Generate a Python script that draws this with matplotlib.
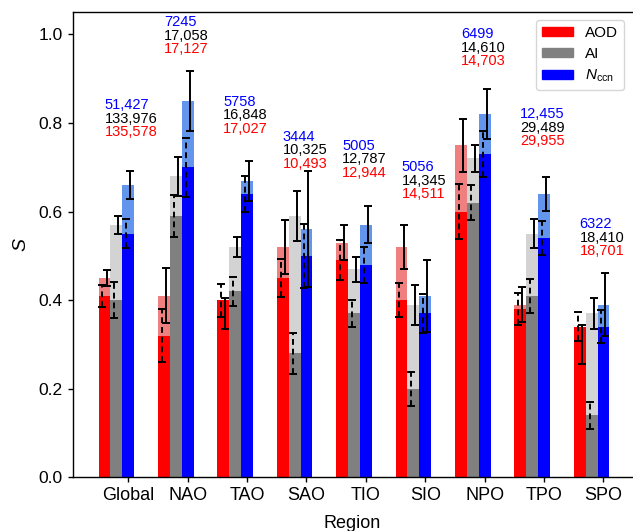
# bar chart of S per region for AOD, AI and Nccn, two periods stacked on top of each other
import numpy as np
from matplotlib import pyplot as plt
from matplotlib.patches import Patch

plt.rcParams['font.family'] = ['Liberation Sans', 'DejaVu Sans']
plt.rcParams['mathtext.fontset'] = 'custom'
plt.rcParams['mathtext.rm'] = 'Liberation Sans'
plt.rcParams['mathtext.it'] = 'Liberation Sans:italic'

regions = ['Global', 'NAO', 'TAO', 'SAO', 'TIO', 'SIO', 'NPO', 'TPO', 'SPO']

# light bars (solid error bars)
aod_a = [0.45, 0.41, 0.37, 0.52, 0.53, 0.52, 0.75, 0.39, 0.30]
aod_a_err = [0.019, 0.062, 0.035, 0.062, 0.040, 0.050, 0.060, 0.040, 0.045]
ai_a = [0.57, 0.68, 0.52, 0.59, 0.47, 0.39, 0.72, 0.55, 0.37]
ai_a_err = [0.021, 0.044, 0.023, 0.057, 0.028, 0.045, 0.031, 0.033, 0.036]
ccn_a = [0.66, 0.85, 0.67, 0.56, 0.57, 0.41, 0.82, 0.64, 0.39]
ccn_a_err = [0.031, 0.068, 0.045, 0.131, 0.042, 0.081, 0.057, 0.038, 0.072]

# dark bars (dashed error bars)
aod_b = [0.41, 0.32, 0.40, 0.45, 0.49, 0.40, 0.60, 0.38, 0.34]
aod_b_err = [0.025, 0.059, 0.037, 0.042, 0.045, 0.038, 0.062, 0.037, 0.033]
ai_b = [0.40, 0.59, 0.42, 0.28, 0.37, 0.20, 0.62, 0.41, 0.14]
ai_b_err = [0.040, 0.048, 0.033, 0.047, 0.030, 0.038, 0.040, 0.038, 0.031]
ccn_b = [0.55, 0.70, 0.64, 0.50, 0.48, 0.37, 0.73, 0.54, 0.34]
ccn_b_err = [0.033, 0.066, 0.040, 0.073, 0.041, 0.045, 0.052, 0.038, 0.037]

# sample counts written above each group
n_ccn = ['51,427', '7245', '5758', '3444', '5005', '5056', '6499', '12,455', '6322']
n_ai = ['133,976', '17,058', '16,848', '10,325', '12,787', '14,345', '14,610', '29,489', '18,410']
n_aod = ['135,578', '17,127', '17,027', '10,493', '12,944', '14,511', '14,703', '29,955', '18,701']
label_y = [0.84, 1.028, 0.848, 0.769, 0.749, 0.70, 1.0, 0.82, 0.571]

x = np.arange(len(regions))
w = 0.2
dx = 0.034

fig = plt.figure(figsize=(6.33, 5.31), dpi=100)
ax = fig.add_axes([0.1148, 0.1011, 0.8836, 0.8757])

series = [
    (x - 2 * w, aod_a, aod_a_err, aod_b, aod_b_err, '#f08080', '#ff0000'),
    (x - w, ai_a, ai_a_err, ai_b, ai_b_err, '#d3d3d3', '#808080'),
    (x, ccn_a, ccn_a_err, ccn_b, ccn_b_err, '#6495ed', '#0000ff'),
]

for pos, va, vae, vb, vbe, light, dark in series:
    ax.bar(pos, va, w, color=light, zorder=1)
    ax.bar(pos, vb, w, color=dark, zorder=2)
for pos, va, vae, vb, vbe, light, dark in series:
    eb = ax.errorbar(pos - dx, vb, yerr=vbe, fmt='none', ecolor='k', elinewidth=1.4,
                     capsize=3, capthick=1.4, zorder=3)
    eb[2][0].set_linestyle((0, (3, 2)))
    ax.errorbar(pos + dx, va, yerr=vae, fmt='none', ecolor='k', elinewidth=1.4,
                capsize=3, capthick=1.4, zorder=4)

for i in range(len(regions)):
    xt = x[i] - 2 * w
    ax.annotate(n_ccn[i], (xt, label_y[i]), xytext=(0, 0), textcoords='offset points',
                color='#0000ff', fontsize=10.5, va='center', ha='left')
    ax.annotate(n_ai[i], (xt, label_y[i]), xytext=(0, -9.7), textcoords='offset points',
                color='k', fontsize=10.5, va='center', ha='left')
    ax.annotate(n_aod[i], (xt, label_y[i]), xytext=(0, -19.4), textcoords='offset points',
                color='#ff0000', fontsize=10.5, va='center', ha='left')

ax.set_xlim(-0.936, 8.48)
ax.set_ylim(0, 1.05)
ax.set_xticks(x)
ax.set_xticklabels(regions, fontsize=13)
ax.set_yticks([0.0, 0.2, 0.4, 0.6, 0.8, 1.0])
ax.set_yticklabels(['0.0', '0.2', '0.4', '0.6', '0.8', '1.0'], fontsize=12.5)
ax.tick_params(direction='out', length=3.5, width=1)
ax.set_xlabel('Region', fontsize=13, labelpad=8)
ax.set_ylabel('S', fontsize=14, fontstyle='italic', labelpad=7)
for s in ax.spines.values():
    s.set_linewidth(1)
ax.spines['right'].set_visible(False)

handles = [Patch(color='#ff0000', label='AOD'),
           Patch(color='#808080', label='AI'),
           Patch(color='#0000ff', label='$N_{\\rm ccn}$')]
ax.legend(handles=handles, loc='upper right', fontsize=11, handlelength=2.0,
          handleheight=0.5, labelspacing=0.45, borderaxespad=0.5)

fig.savefig('out.png', dpi=100)
